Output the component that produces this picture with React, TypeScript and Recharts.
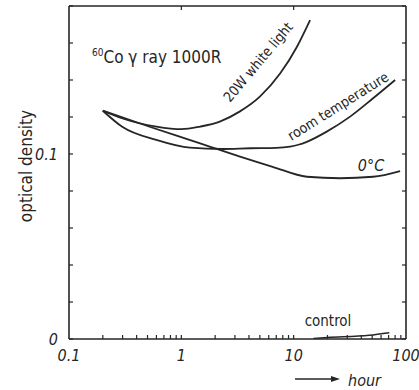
import { LineChart, Line, XAxis, YAxis } from 'recharts';

// ── Data (hours on a log axis, optical density) ──────────────────────────────
const whiteHours = [0.2, 0.3, 0.6, 1, 1.47, 2.2, 3.3, 5, 7.6, 10.7, 14];
const whiteOD = [0.1234, 0.1192, 0.1148, 0.1134, 0.1148, 0.1175, 0.1229, 0.131, 0.1436, 0.158, 0.1724];

const roomHours = [0.2, 0.3, 0.6, 1.19, 2.35, 4.1, 7, 9.3, 11, 13.1, 19.7, 31.8, 50.9, 80];
const roomOD = [0.1234, 0.1146, 0.1076, 0.1034, 0.1027, 0.1031, 0.1033, 0.104, 0.105, 0.1066, 0.1121, 0.1202, 0.1301, 0.14];

const coldHours = [0.2, 0.53, 1.47, 3.33, 6.5, 13.1, 25.9, 50.9, 88.6];
const coldOD = [0.1234, 0.1146, 0.1058, 0.0986, 0.0931, 0.0877, 0.0869, 0.0877, 0.0908];

const controlHours = [15, 20, 47, 71];
const controlOD = [0.0003, 0.0008, 0.002, 0.0034];

const minorHourTicks = [
  0.2, 0.3, 0.4, 0.5, 0.6, 0.7, 0.8, 0.9, 1,
  2, 3, 4, 5, 6, 7, 8, 9, 10,
  20, 30, 40, 50, 60, 70, 80, 90,
];
const hourLabels = [0.1, 1, 10, 100];
const topHourTicks = [1, 10];
const odTicks = [0, 0.02, 0.04, 0.06, 0.08, 0.1, 0.12, 0.14, 0.16, 0.18];
const odLabels = [0, 0.1];

// ── Style ─────────────────────────────────────────────────────────────────────
const INK = '#262626';
const FONT = "'DejaVu Sans Condensed', 'Liberation Sans Narrow', sans-serif";

const zip = (xs: number[], ys: number[]) => xs.map((t, i) => ({ t, od: ys[i] }));

const NoLabel = () => null;

function HourTick({ x, y, payload }: any) {
  return (
    <text x={x} y={y + 22} textAnchor="middle" fontSize={16} fontStyle="italic"
      fontFamily={FONT} fill={INK}>
      {payload.value}
    </text>
  );
}

function OdTick({ x, y, payload }: any) {
  return (
    <text x={x} y={y + 6} textAnchor="end" fontSize={16} fontStyle="italic"
      fontFamily={FONT} fill={INK}>
      {payload.value}
    </text>
  );
}

const axisCommon = {
  type: 'number' as const,
  allowDataOverflow: true,
  stroke: INK,
};
const frameLine = { stroke: INK, strokeWidth: 1.6 };
const tickMark = { stroke: INK, strokeWidth: 1.2 };

export default function App() {
  return (
    <div style={{ position: 'absolute', left: 0, top: 0, width: 419, height: 390, background: '#fff' }}>
      <LineChart width={419} height={390} margin={{ top: 6, right: 13, bottom: 21, left: 0 }}>
        {/* bottom axis: inward log ticks */}
        <XAxis xAxisId="x" dataKey="t" {...axisCommon} scale="log" domain={[0.1, 100]}
          ticks={minorHourTicks} interval={0} orientation="bottom" mirror tick={NoLabel} tickSize={4}
          tickLine={tickMark} axisLine={frameLine} />
        {/* bottom labels */}
        <XAxis xAxisId="xl" dataKey="t" {...axisCommon} scale="log" domain={[0.1, 100]}
          ticks={hourLabels} orientation="bottom" height={30} tickSize={0} tickMargin={0}
          axisLine={false} tickLine={false} tick={<HourTick />} interval={0} />
        {/* top frame */}
        <XAxis xAxisId="xt" dataKey="t" {...axisCommon} scale="log" domain={[0.1, 100]}
          ticks={topHourTicks} interval={0} orientation="top" mirror tick={NoLabel} tickSize={4}
          tickLine={tickMark} axisLine={frameLine} />

        <YAxis yAxisId="y" dataKey="od" {...axisCommon} domain={[0, 0.18]} ticks={odTicks}
          orientation="left" mirror tick={NoLabel} tickSize={4} interval={0}
          tickLine={tickMark} axisLine={frameLine} />
        <YAxis yAxisId="yl" dataKey="od" {...axisCommon} domain={[0, 0.18]} ticks={odLabels}
          orientation="left" width={69} tickSize={0} tickMargin={11} interval={0}
          axisLine={false} tickLine={false} tick={<OdTick />} />
        <YAxis yAxisId="yr" dataKey="od" {...axisCommon} domain={[0, 0.18]} ticks={odTicks}
          orientation="right" mirror tick={NoLabel} tickSize={4} interval={0}
          tickLine={tickMark} axisLine={frameLine} />

        <Line xAxisId="x" yAxisId="y" data={zip(whiteHours, whiteOD)} dataKey="od" type="monotone"
          stroke={INK} strokeWidth={1.8} dot={false} isAnimationActive={false} />
        <Line xAxisId="x" yAxisId="y" data={zip(roomHours, roomOD)} dataKey="od" type="monotone"
          stroke={INK} strokeWidth={1.8} dot={false} isAnimationActive={false} />
        <Line xAxisId="x" yAxisId="y" data={zip(coldHours, coldOD)} dataKey="od" type="monotone"
          stroke={INK} strokeWidth={1.8} dot={false} isAnimationActive={false} />
        <Line xAxisId="x" yAxisId="y" data={zip(controlHours, controlOD)} dataKey="od" type="monotone"
          stroke={INK} strokeWidth={1.4} dot={false} isAnimationActive={false} />
      </LineChart>

      {/* annotations */}
      <svg width={419} height={390} style={{ position: 'absolute', left: 0, top: 0, pointerEvents: 'none' }}
        fontFamily={FONT} fill={INK}>
        <text x={26} y={166} fontSize={17} textAnchor="middle" dominantBaseline="central"
          transform="rotate(-90 26 166)">optical density</text>
        <text x={92} y={63} fontSize={17}>
          <tspan fontSize={10} dy={-7}>60</tspan>
          <tspan dy={7}>Co γ ray  1000R</tspan>
        </text>
        <text x={258} y={62} fontSize={14} textAnchor="middle" dominantBaseline="central"
          transform="rotate(-50 258 62)">20W white light</text>
        <text x={338} y={106} fontSize={14} textAnchor="middle" dominantBaseline="central"
          transform="rotate(-32 338 106)">room temperature</text>
        <text x={371} y={165} fontSize={16} fontStyle="italic" textAnchor="middle"
          dominantBaseline="central">0°C</text>
        <text x={328} y={321} fontSize={15} textAnchor="middle" dominantBaseline="central">control</text>
        <line x1={295} y1={379} x2={333} y2={379} stroke={INK} strokeWidth={1.3} />
        <polygon points="340,379 331,376 331,382" />
        <text x={348} y={386} fontSize={16} fontStyle="italic">hour</text>
      </svg>
    </div>
  );
}
